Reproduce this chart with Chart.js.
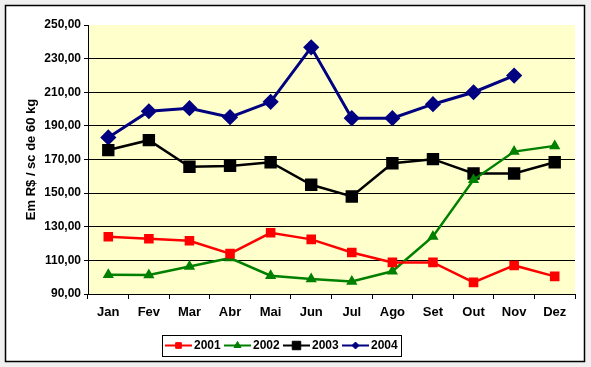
<!DOCTYPE html>
<html>
<head>
<meta charset="utf-8">
<title>Preço - Em R$ / sc de 60 kg</title>
<script src="https://cdn.jsdelivr.net/npm/chart.js@4.4.0/dist/chart.umd.min.js"></script>
<style>
    body { margin: 0; background: #f0f0f0; }
    canvas { display: block; }
</style>
</head>
<body>
<canvas id="chart" width="591" height="367"></canvas>
<script>
// Months (x categories)
const months = ['Jan', 'Fev', 'Mar', 'Abr', 'Mai', 'Jun', 'Jul', 'Ago', 'Set', 'Out', 'Nov', 'Dez'];

// Values
const values2001 = [124.1, 122.9, 121.7, 114.0, 126.4, 122.5, 114.7, 108.8, 108.8, 96.9, 107.0, 100.5];
const values2002 = [101.5, 101.3, 106.4, 111.4, 100.9, 98.9, 97.5, 103.5, 124.2, 157.9, 174.7, 178.1];
const values2003 = [175.6, 181.5, 165.7, 166.2, 168.4, 155.0, 148.0, 167.8, 170.2, 161.7, 161.7, 168.4];
const values2004 = [183.1, 198.7, 200.5, 195.2, 204.3, 236.7, 194.6, 194.6, 202.9, 210.0, 219.9, null];

// Y axis range
const yMin = 90;
const yMax = 250;
const yStep = 20;

const FONT = 'Arial, "Liberation Sans", sans-serif';

/**
 * Draw the frame, the grey outside area and the yellow plot area
 */
const frame = {
    id: 'frame',
    beforeDraw(chart) {
        const ctx = chart.ctx;
        const a = chart.chartArea;
        ctx.save();
        ctx.fillStyle = '#f0f0f0';
        ctx.fillRect(0, 0, chart.width, chart.height);
        ctx.fillStyle = '#ffffff';
        ctx.fillRect(5, 5, 579, 356);
        ctx.strokeStyle = '#000000';
        ctx.lineWidth = 1.5;
        ctx.strokeRect(5.5, 5.5, 579, 356);
        ctx.fillStyle = '#ffffcc';
        ctx.fillRect(a.left, a.top, a.right - a.left, a.bottom - a.top);
        ctx.restore();
    }
};

/**
 * Boxed legend like the Excel one: line + marker + label
 */
const boxLegend = {
    id: 'boxLegend',
    afterDraw(chart) {
        const ctx = chart.ctx;
        const yc = 345.5;
        ctx.save();
        ctx.fillStyle = '#ffffff';
        ctx.fillRect(162, 335, 239, 21);
        ctx.strokeStyle = '#000000';
        ctx.lineWidth = 1;
        ctx.strokeRect(162.5, 335.5, 239, 21);

        chart.data.datasets.forEach((ds, i) => {
            const x0 = 165 + i * 59;
            ctx.strokeStyle = ds.borderColor;
            ctx.lineWidth = 2;
            ctx.beginPath();
            ctx.moveTo(x0, yc);
            ctx.lineTo(x0 + 27, yc);
            ctx.stroke();

            ctx.fillStyle = ds.borderColor;
            ctx.lineWidth = 1;
            Chart.helpers.drawPoint(ctx, {
                pointStyle: ds.pointStyle,
                radius: ds.legendRadius,
                borderWidth: 1
            }, x0 + 13.5, yc);

            ctx.fillStyle = '#000000';
            ctx.font = 'bold 12px ' + FONT;
            ctx.textAlign = 'left';
            ctx.textBaseline = 'middle';
            ctx.fillText(ds.label, x0 + 29, yc + 0.5);
        });
        ctx.restore();
    }
};

// one line series with its marker
function series(label, data, color, style, radius, legendRadius, width) {
    return {
        label: label,
        data: data,
        borderColor: color,
        backgroundColor: color,
        pointBackgroundColor: color,
        pointBorderColor: color,
        borderWidth: width,
        pointStyle: style,
        pointRadius: radius,
        legendRadius: legendRadius,
        tension: 0,
        spanGaps: false
    };
}

const ctxChart = document.getElementById('chart').getContext('2d');

new Chart(ctxChart, {
    type: 'line',
    data: {
        labels: months,
        datasets: [
            series('2001', values2001, '#ff0000', 'rect', 5, 4, 2.5),
            series('2002', values2002, '#008000', 'triangle', 4, 4, 2.5),
            series('2003', values2003, '#000000', 'rect', 7, 6, 2.5),
            series('2004', values2004, '#000080', 'rectRot', 6, 3.5, 3)
        ]
    },
    options: {
        responsive: false,
        animation: false,
        devicePixelRatio: 1,
        layout: {
            padding: { left: 0, top: 25, right: 16, bottom: 0 }
        },
        plugins: {
            legend: { display: false },
            tooltip: { enabled: false }
        },
        scales: {
            x: {
                offset: true,
                afterFit(scale) { scale.height = 73; },
                grid: {
                    offset: true,
                    drawOnChartArea: false,
                    drawTicks: true,
                    tickLength: 5,
                    tickColor: '#000000'
                },
                border: { display: true, color: '#000000', width: 1 },
                ticks: {
                    color: '#000000',
                    padding: 6,
                    maxRotation: 0,
                    font: { family: FONT, size: 13, weight: 'bold' }
                }
            },
            y: {
                min: yMin,
                max: yMax,
                afterFit(scale) { scale.width = 88; },
                ticks: {
                    stepSize: yStep,
                    color: '#000000',
                    padding: 3,
                    font: { family: FONT, size: 12, weight: 'bold' },
                    callback: (value) => value.toFixed(2).replace('.', ',')
                },
                grid: {
                    color: (c) => (c.tick && c.tick.value === yMax) ? 'rgba(0,0,0,0)' : '#000000',
                    tickColor: '#000000',
                    tickLength: 4,
                    lineWidth: 1
                },
                border: { display: true, color: '#000000', width: 1 },
                title: {
                    display: true,
                    text: 'Em R$ / sc de 60 kg',
                    color: '#000000',
                    padding: { top: 24, bottom: 4 },
                    font: { family: FONT, size: 13, weight: 'bold' }
                }
            }
        }
    },
    plugins: [frame, boxLegend]
});
</script>
</body>
</html>
